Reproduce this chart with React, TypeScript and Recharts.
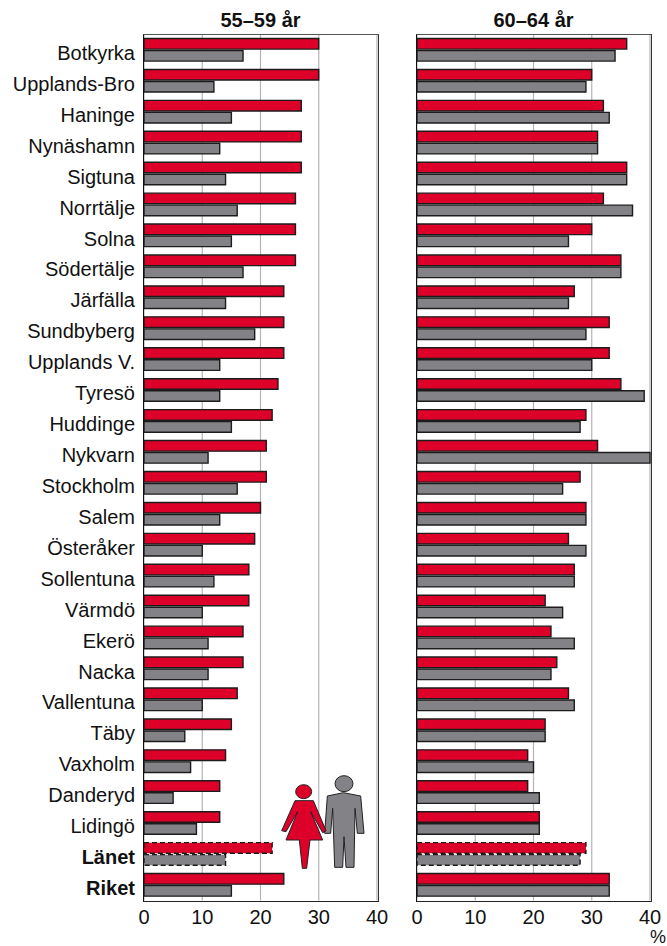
import { BarChart, Bar, Cell, XAxis, YAxis, CartesianGrid } from 'recharts'

const kommuner = [
  'Botkyrka', 'Upplands-Bro', 'Haninge', 'Nynäshamn', 'Sigtuna', 'Norrtälje', 'Solna',
  'Södertälje', 'Järfälla', 'Sundbyberg', 'Upplands V.', 'Tyresö', 'Huddinge', 'Nykvarn',
  'Stockholm', 'Salem', 'Österåker', 'Sollentuna', 'Värmdö', 'Ekerö', 'Nacka', 'Vallentuna',
  'Täby', 'Vaxholm', 'Danderyd', 'Lidingö', 'Länet', 'Riket',
]

const kvinnor5559 = [30, 30, 27, 27, 27, 26, 26, 26, 24, 24, 24, 23, 22, 21, 21, 20, 19, 18, 18, 17, 17, 16, 15, 14, 13, 13, 22, 24]
const man5559 = [17, 12, 15, 13, 14, 16, 15, 17, 14, 19, 13, 13, 15, 11, 16, 13, 10, 12, 10, 11, 11, 10, 7, 8, 5, 9, 14, 15]
const kvinnor6064 = [36, 30, 32, 31, 36, 32, 30, 35, 27, 33, 33, 35, 29, 31, 28, 29, 26, 27, 22, 23, 24, 26, 22, 19, 19, 21, 29, 33]
const man6064 = [34, 29, 33, 31, 36, 37, 26, 35, 26, 29, 30, 39, 28, 40, 25, 29, 29, 27, 25, 27, 23, 27, 22, 20, 21, 21, 28, 33]
const xTicks = [0, 10, 20, 30, 40]

const RED = '#dd0029'
const GREY = '#838287'
const FONT = '"Liberation Sans", Arial, sans-serif'

const PLOT_TOP = 34.5
const PLOT_BOTTOM = 900.5

function CategoryTick({ x, y, payload }: any) {
  const bold = payload.value === 'Länet' || payload.value === 'Riket'
  return (
    <text
      x={x}
      y={y + 10}
      textAnchor="end"
      fontSize={20}
      fontFamily={FONT}
      fontWeight={bold ? 'bold' : 'normal'}
      fill="#111"
    >
      {payload.value}
    </text>
  )
}

function Panel({ title, left, width, plotLeft, women, men, showNames }: {
  title: string
  left: number
  width: number
  plotLeft: number
  women: number[]
  men: number[]
  showNames: boolean
}) {
  const plotWidth = 233
  const rows = kommuner.map((name, i) => ({ name, women: women[i], men: men[i] }))

  const bars = (key: 'women' | 'men', color: string) => (
    <Bar dataKey={key} fill={color} stroke="#1c1c1c" strokeWidth={1.4} barSize={10.6} isAnimationActive={false}>
      {rows.map((r) => (
        <Cell key={r.name} strokeDasharray={r.name === 'Länet' ? '5 3' : undefined} />
      ))}
    </Bar>
  )

  return (
    <div style={{ position: 'absolute', left, top: 0, width, height: 946 }}>
      <div
        style={{
          position: 'absolute',
          left: plotLeft - 30,
          width: plotWidth + 60,
          top: 10,
          textAlign: 'center',
          fontFamily: FONT,
          fontSize: 20,
          fontWeight: 'bold',
          color: '#111',
          lineHeight: '20px',
        }}
      >
        {title}
      </div>
      <BarChart
        width={width}
        height={946}
        data={rows}
        layout="vertical"
        barGap={1.4}
        margin={{ top: PLOT_TOP, bottom: 0, left: showNames ? 0 : plotLeft, right: width - plotLeft - plotWidth }}
      >
        <CartesianGrid horizontal={false} stroke="#b4b4b8" strokeWidth={1.2} />
        <XAxis
          type="number"
          domain={[0, 40]}
          ticks={xTicks}
          interval={0}
          height={946 - PLOT_BOTTOM}
          axisLine={false}
          tickLine={false}
          tick={{ fontSize: 20, fontFamily: FONT, fill: '#111' }}
          tickMargin={3}
        />
        <YAxis
          type="category"
          dataKey="name"
          hide={!showNames}
          width={plotLeft}
          interval={0}
          axisLine={false}
          tickLine={false}
          tickMargin={3}
          tick={<CategoryTick />}
        />
        {bars('women', RED)}
        {bars('men', GREY)}
      </BarChart>
      <div
        style={{
          position: 'absolute',
          left: plotLeft - 1,
          top: PLOT_TOP - 1,
          width: plotWidth + 1,
          height: PLOT_BOTTOM - PLOT_TOP,
          borderTop: '1.5px solid #555',
          borderRight: '1.5px solid #333',
          borderBottom: '1.5px solid #222',
          borderLeft: '1.5px solid #111',
          pointerEvents: 'none',
        }}
      />
    </div>
  )
}

// kvinna och man, symbolen nere till höger i vänstra panelen
function Figures() {
  return (
    <svg
      viewBox="0 0 1200 528"
      width={400}
      height={176}
      style={{ position: 'absolute', left: 0, top: 770, pointerEvents: 'none' }}
    >
      <g fill={GREY} stroke="#222" strokeWidth={3}>
        <ellipse cx={1032} cy={41} rx={27} ry={24} />
        <path d="M982 78 L1030 68 L1082 78 L1092 190 L1072 190 L1065 115 L1062 292 L1038 292 L1032 200 L1028 292 L1004 292 L998 115 L992 190 L974 190 Z" />
      </g>
      <g fill={RED} stroke="#222" strokeWidth={3}>
        <ellipse cx={911} cy={65} rx={24} ry={21} />
        <path d="M885 92 L940 92 L978 182 L968 188 L932 125 L968 210 L930 210 L920 295 L907 295 L898 210 L858 210 L893 125 L858 185 L845 182 Z" />
      </g>
    </svg>
  )
}

export default function App() {
  return (
    <div style={{ position: 'absolute', left: 0, top: 0, width: 667, height: 946, background: '#fff', overflow: 'hidden' }}>
      <Panel title="55–59 år" left={0} width={400} plotLeft={144} women={kvinnor5559} men={man5559} showNames />
      <Panel title="60–64 år" left={400} width={267} plotLeft={17} women={kvinnor6064} men={man6064} showNames={false} />
      <Figures />
      <div style={{ position: 'absolute', left: 650, top: 929, fontFamily: FONT, fontSize: 18, lineHeight: '17px', color: '#111' }}>%</div>
    </div>
  )
}
